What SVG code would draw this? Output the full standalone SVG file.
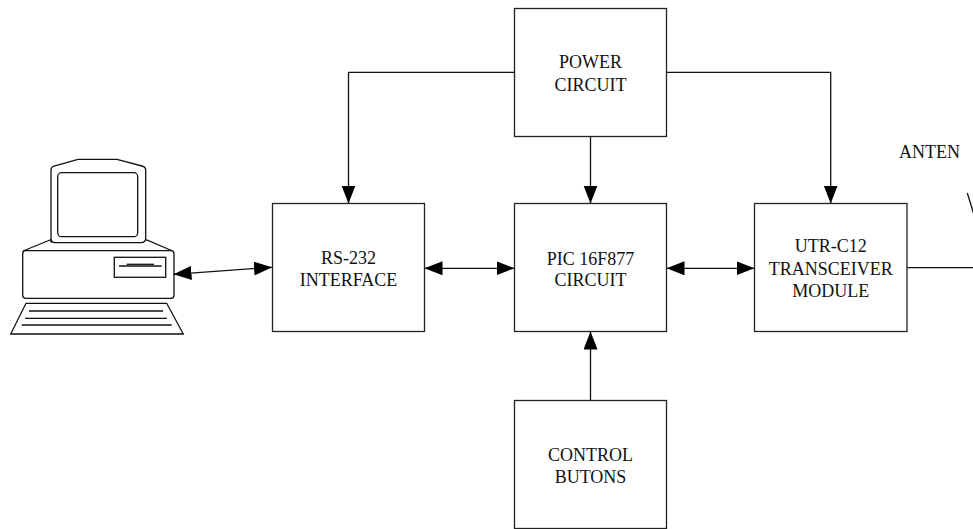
<svg xmlns="http://www.w3.org/2000/svg" width="973" height="529" viewBox="0 0 973 529">
  <style>
    .box { fill: #fff; stroke: #222; stroke-width: 1.3; }
    .lbl { font-family: "Liberation Serif", "Times New Roman", serif; font-size: 18px; fill: #111; text-anchor: middle; }
    .wire { fill: none; stroke: #111; stroke-width: 1.3; }
    .pc { fill: #fff; stroke: #111; stroke-width: 1.3; }
    .pcl { fill: none; stroke: #111; stroke-width: 1.3; }
  </style>
  <defs>
    <marker id="arrow" markerUnits="userSpaceOnUse" markerWidth="20" markerHeight="16" refX="18" refY="7" orient="auto-start-reverse">
      <path d="M0,0 L18,7 L0,14 z" fill="#000"/>
    </marker>
  </defs>

  <!-- personal computer -->
  <g id="computer">
    <path class="pc" d="M50,240 L23,251 L146.7,251 L172.7,251 L146.7,240 Z"/>
    <path class="pc" d="M51,242.7 L51,170 Q51,167 54,166 L78,159.3 L117,159.3 L142,166 Q145.7,167 145.7,170 L145.7,238 Q145.7,242.7 141,242.7 L55,242.7 Q51,242.7 51,238 Z"/>
    <rect class="pc" x="57.7" y="172.7" width="80" height="64" rx="4"/>
    <rect class="pc" x="22.7" y="250.7" width="151.3" height="47.6" rx="3"/>
    <rect class="pc" x="114.3" y="257.3" width="51.4" height="20"/>
    <line class="pcl" x1="119" y1="266" x2="161.7" y2="266"/>
    <line class="pcl" x1="126.7" y1="264.3" x2="154" y2="264.3" stroke-width="1.6"/>
    <path class="pc" d="M26,303.3 L166.7,303.3 L183.3,334 L10.7,334 Z"/>
    <line class="pcl" x1="29" y1="311" x2="163" y2="311"/>
    <line class="pcl" x1="25" y1="318.3" x2="167" y2="318.3"/>
    <line class="pcl" x1="21.7" y1="325" x2="171.7" y2="325"/>
  </g>

  <!-- connectors -->
  <g id="connectors">
    <polyline class="wire" points="514.5,72.3 348.5,72.3 348.5,203.5" marker-end="url(#arrow)"/>
    <polyline class="wire" points="666.5,72.3 830.7,72.3 830.7,203.5" marker-end="url(#arrow)"/>
    <line class="wire" x1="590.5" y1="136.5" x2="590.5" y2="203.5" marker-end="url(#arrow)"/>
    <line class="wire" x1="590.5" y1="400.5" x2="590.5" y2="331.5" marker-end="url(#arrow)"/>
    <line class="wire" x1="173.5" y1="274.3" x2="272" y2="267.3" marker-start="url(#arrow)" marker-end="url(#arrow)"/>
    <line class="wire" x1="424.5" y1="268.3" x2="514.5" y2="268.3" marker-start="url(#arrow)" marker-end="url(#arrow)"/>
    <line class="wire" x1="666.5" y1="268.3" x2="754.5" y2="268.3" marker-start="url(#arrow)" marker-end="url(#arrow)"/>
    <line class="wire" x1="907" y1="267.7" x2="973" y2="267.7"/>
    <line class="wire" x1="967.3" y1="193" x2="975" y2="218"/>
  </g>

  <g id="power">
    <rect class="box" x="514.5" y="8.5" width="152" height="128"/>
    <text class="lbl" x="590.5" y="68.3">POWER</text>
    <text class="lbl" x="590.5" y="90.7">CIRCUIT</text>
  </g>

  <g id="rs232">
    <rect class="box" x="272.5" y="203.5" width="152" height="128"/>
    <text class="lbl" x="348.5" y="264">RS-232</text>
    <text class="lbl" x="348.5" y="285.7">INTERFACE</text>
  </g>

  <g id="pic">
    <rect class="box" x="514.5" y="203.5" width="152" height="128"/>
    <text class="lbl" x="590.5" y="265">PIC 16F877</text>
    <text class="lbl" x="590.5" y="285.7">CIRCUIT</text>
  </g>

  <g id="transceiver">
    <rect class="box" x="754.5" y="203.5" width="152.5" height="128"/>
    <text class="lbl" x="830.7" y="252.3">UTR-C12</text>
    <text class="lbl" x="830.7" y="275">TRANSCEIVER</text>
    <text class="lbl" x="830.7" y="296.7">MODULE</text>
  </g>

  <g id="buttons">
    <rect class="box" x="514.5" y="400.5" width="152" height="128"/>
    <text class="lbl" x="590.5" y="461">CONTROL</text>
    <text class="lbl" x="590.5" y="482.7">BUTONS</text>
  </g>

  <g id="antenna">
    <text class="lbl" x="929.5" y="158.3">ANTEN</text>
  </g>
</svg>
